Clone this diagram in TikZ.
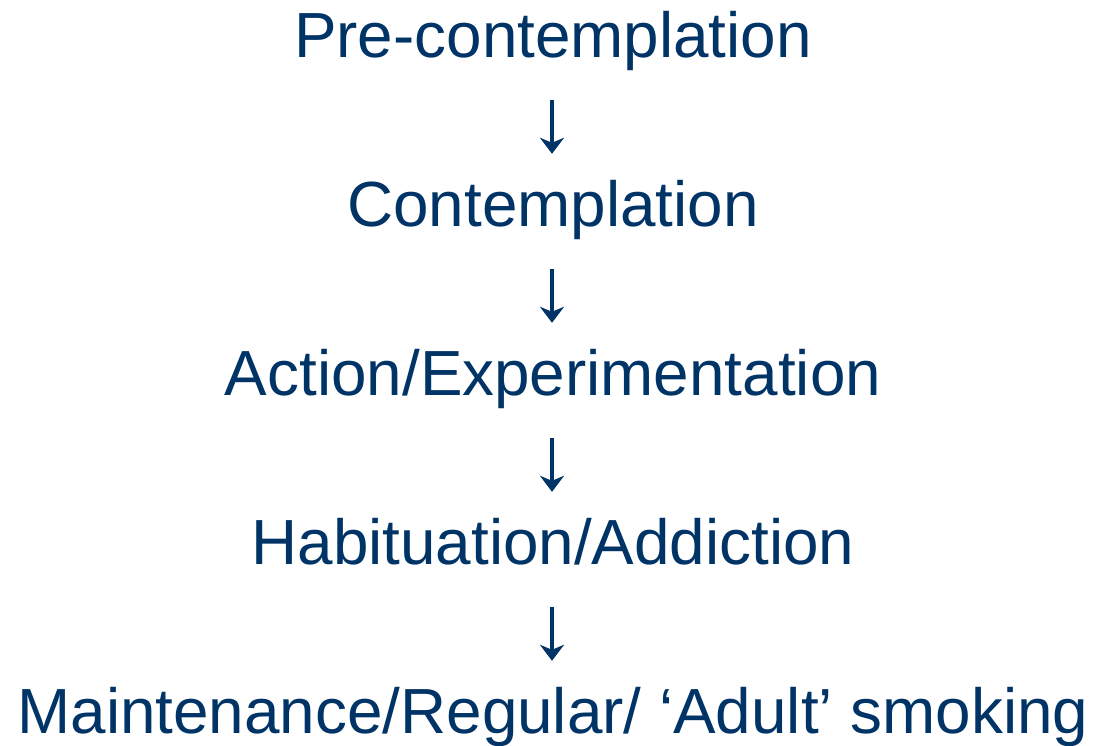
\documentclass[tikz,border=0pt]{standalone}
\usepackage{fontspec}
\setmainfont{Liberation Sans}
\usetikzlibrary{arrows.meta}
\definecolor{navy}{HTML}{003366}
\begin{document}
\begin{tikzpicture}[x=1pt,y=-1pt,
  stage/.style={text=navy,font=\fontsize{63.8}{70}\selectfont,inner sep=0pt,text height=46pt,text depth=13pt,anchor=base},
  flow/.style={draw=navy,line width=3.8pt,-{Stealth[length=16pt,width=24pt,inset=5pt]},shorten <=30pt,shorten >=26pt}]
\useasboundingbox (0,0) rectangle (1094,745);
\node[stage] (a) at (553,57) {Pre-contemplation};
\node[stage] (b) at (553,226) {Contemplation};
\node[stage] (c) at (553,395) {Action/Experimentation};
\node[stage] (d) at (553,564) {Habituation/Addiction};
\node[stage] (e) at (553,733) {Maintenance/Regular/ ‘Adult’ smoking};
\draw[flow] ([xshift=-1pt]a.south) -- ([xshift=-1pt]b.north);
\draw[flow] ([xshift=-1pt]b.south) -- ([xshift=-1pt]c.north);
\draw[flow] ([xshift=-1pt]c.south) -- ([xshift=-1pt]d.north);
\draw[flow] ([xshift=-1pt]d.south) -- ([xshift=-1pt]e.north);
\end{tikzpicture}
\end{document}
